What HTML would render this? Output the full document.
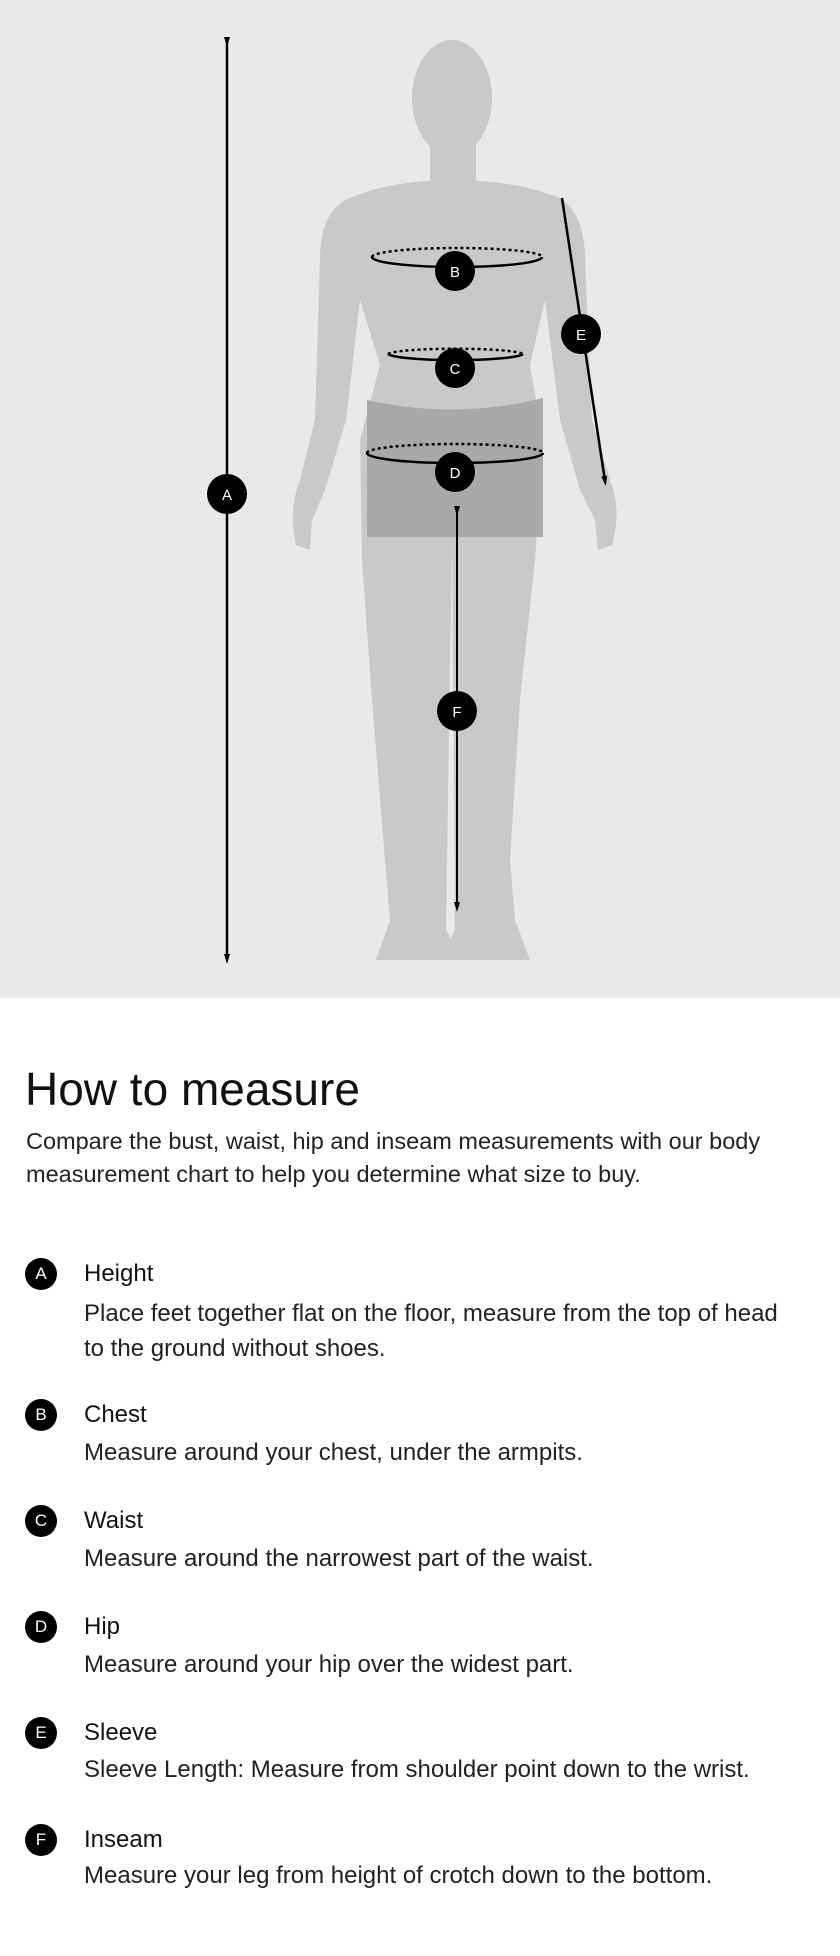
<!DOCTYPE html>
<html><head><meta charset="utf-8"><style>
body{margin:0;width:840px;height:1956px;background:#fff;font-family:"Liberation Sans",sans-serif;color:#111;position:relative;overflow:hidden}
.t{position:absolute;white-space:nowrap}
.c{position:absolute;width:32px;height:32px;border-radius:50%;background:#000;color:#fff;font-size:17px;text-align:center;line-height:32px;left:25px}
.h{font-size:24px;left:84px}
.d{font-size:24px;left:84px;color:#222}
</style></head><body>
<svg width="840" height="1000" style="position:absolute;left:0;top:0">
<defs><marker id="ar" markerUnits="userSpaceOnUse" markerWidth="10" markerHeight="10" refX="5" refY="5" orient="auto"><path d="M0,2 L10,5 L0,8z" fill="#000"/></marker></defs>
<rect width="840" height="998" fill="#e9e9e9"/>
<g fill="#c9c9c9">
<ellipse cx="452" cy="98" rx="40" ry="58"/>
<rect x="430" y="140" width="46" height="60"/>
<path d="M345,200 Q390,180 452,180 Q515,180 560,198 Q585,215 585,260 L592,420 L610,480 Q622,510 612,545 L598,550 L595,520 L580,490 L560,420 L545,300 L530,365 L543,440 L535,560 L520,700 L510,860 L515,920 L530,960 L440,960 L455,930 L452,540 L446,930 L462,960 L376,960 L390,920 L385,860 L372,700 L362,560 L360,440 L380,365 L360,300 L346,420 L325,490 L312,520 L310,550 L296,545 Q288,510 300,480 L315,420 L320,260 Q320,215 345,200z"/>
</g>
<path d="M367,400 Q455,420 543,398 L543,537 L367,537z" fill="#a9a9a9"/>
<g fill="none" stroke="#000">
<line x1="227" y1="42" x2="227" y2="959" stroke-width="2.5" marker-start="url(#ar)" marker-end="url(#ar)"/>
<line x1="562" y1="198" x2="605" y2="481" stroke-width="2.5" marker-end="url(#ar)"/>
<line x1="457" y1="511" x2="457" y2="907" stroke-width="2" marker-start="url(#ar)" marker-end="url(#ar)"/>
<path d="M372,257 A85,9 0 0 1 542,257" stroke-width="2.5" stroke-dasharray="3,3"/>
<path d="M372,257 A85,10 0 0 0 542,257" stroke-width="2.5"/>
<path d="M388,354 A68,6 0 0 1 523,354" stroke-width="2.5" stroke-dasharray="3,3"/>
<path d="M388,354 A68,7 0 0 0 523,354" stroke-width="2.5"/>
<path d="M367,453 A88,9 0 0 1 543,453" stroke-width="2.5" stroke-dasharray="3,3"/>
<path d="M367,453 A88,10 0 0 0 543,453" stroke-width="2.5"/>
</g>
<g font-size="15" fill="#fff" text-anchor="middle" font-family="Liberation Sans,sans-serif">
<circle cx="227" cy="494" r="20" fill="#000"/><text x="227" y="500">A</text>
<circle cx="455" cy="271" r="20" fill="#000"/><text x="455" y="277">B</text>
<circle cx="455" cy="368" r="20" fill="#000"/><text x="455" y="374">C</text>
<circle cx="455" cy="472" r="20" fill="#000"/><text x="455" y="478">D</text>
<circle cx="581" cy="334" r="20" fill="#000"/><text x="581" y="340">E</text>
<circle cx="457" cy="711" r="20" fill="#000"/><text x="457" y="717">F</text>
</g>
</svg>
<div class="t" style="left:25px;top:1062px;font-size:46px">How to measure</div>
<div class="t" style="left:26px;top:1125px;font-size:23.5px;line-height:33px;color:#222">Compare the bust, waist, hip and inseam measurements with our body<br>measurement chart to help you determine what size to buy.</div>
<div class="c" style="top:1258px">A</div><div class="t h" style="top:1260px">Height</div>
<div class="t d" style="top:1296px;line-height:35px">Place feet together flat on the floor, measure from the top of head<br>to the ground without shoes.</div>
<div class="c" style="top:1399px">B</div><div class="t h" style="top:1401px">Chest</div>
<div class="t d" style="top:1439px">Measure around your chest, under the armpits.</div>
<div class="c" style="top:1505px">C</div><div class="t h" style="top:1507px">Waist</div>
<div class="t d" style="top:1545px">Measure around the narrowest part of the waist.</div>
<div class="c" style="top:1611px">D</div><div class="t h" style="top:1613px">Hip</div>
<div class="t d" style="top:1651px">Measure around your hip over the widest part.</div>
<div class="c" style="top:1717px">E</div><div class="t h" style="top:1719px">Sleeve</div>
<div class="t d" style="top:1756px">Sleeve Length: Measure from shoulder point down to the wrist.</div>
<div class="c" style="top:1824px">F</div><div class="t h" style="top:1826px">Inseam</div>
<div class="t d" style="top:1862px">Measure your leg from height of crotch down to the bottom.</div>
</body></html>
